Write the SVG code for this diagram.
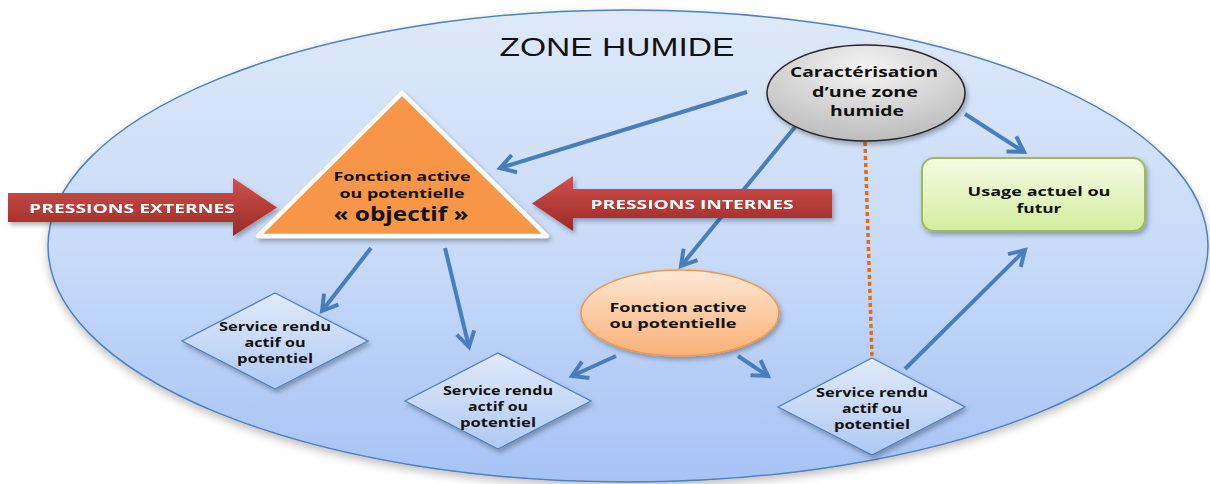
<svg xmlns="http://www.w3.org/2000/svg" width="1210" height="484" viewBox="0 0 1210 484">
<defs>
<linearGradient id="gZone" x1="0" y1="0" x2="0" y2="1"><stop offset="0" stop-color="#dee9f9"/><stop offset="0.5" stop-color="#c8dbf9"/><stop offset="1" stop-color="#a6c3f4"/></linearGradient>
<linearGradient id="gRed" x1="0" y1="0" x2="0" y2="1"><stop offset="0" stop-color="#d0514d"/><stop offset="1" stop-color="#9a2926"/></linearGradient>
<radialGradient id="gGrey" cx="0.5" cy="0.25" r="0.8"><stop offset="0" stop-color="#f4f4f4"/><stop offset="1" stop-color="#b8b8b8"/></radialGradient>
<linearGradient id="gGreen" x1="0" y1="0" x2="0" y2="1"><stop offset="0" stop-color="#f6fbe6"/><stop offset="1" stop-color="#d3ed9e"/></linearGradient>
<linearGradient id="gOrange" x1="0" y1="0" x2="0" y2="1"><stop offset="0" stop-color="#fde8d6"/><stop offset="1" stop-color="#fab074"/></linearGradient>
<linearGradient id="gDia" x1="0" y1="0" x2="0" y2="1"><stop offset="0" stop-color="#e0eafa"/><stop offset="1" stop-color="#aecaf4"/></linearGradient>
<filter id="sh" x="-20%" y="-20%" width="140%" height="140%"><feDropShadow dx="2" dy="3" stdDeviation="2.5" flood-color="#000" flood-opacity="0.3"/></filter>
<filter id="shBig" x="-5%" y="-5%" width="110%" height="115%"><feDropShadow dx="0" dy="4" stdDeviation="4" flood-color="#000" flood-opacity="0.25"/></filter>
<marker id="arr" markerUnits="userSpaceOnUse" markerWidth="24" markerHeight="24" refX="16" refY="10" orient="auto" overflow="visible">
<path d="M1,1 L16,10 L1,19" fill="none" stroke="#4a7ebb" stroke-width="4" stroke-linejoin="miter"/>
</marker>
<style>
.t{font-family:"Open Sans","Liberation Sans",sans-serif;font-weight:bold;fill:#111;text-anchor:middle}
.w{font-family:"Open Sans","Liberation Sans",sans-serif;font-weight:bold;fill:#fff;text-anchor:middle;font-size:13px}
.s{font-size:13px}
.d{font-size:12px}
.c{fill:none;stroke:#4a7ebb;stroke-width:4;marker-end:url(#arr)}
.dia{fill:url(#gDia);stroke:#4f81bd;stroke-width:1.3}
</style>
</defs>
<rect width="1210" height="484" fill="#fff"/>
<g id="zone">
<ellipse cx="628" cy="246" rx="580" ry="236" fill="url(#gZone)" stroke="#4f81bd" stroke-width="1.5" filter="url(#shBig)"/>
<text x="617" y="56" font-family="'Liberation Sans',Arial,sans-serif" font-size="26" fill="#111" text-anchor="middle" textLength="235" lengthAdjust="spacingAndGlyphs">ZONE HUMIDE</text>
</g>
<g id="connectors">
<line class="c" x1="747" y1="92" x2="500" y2="168"/>
<line class="c" x1="795" y1="127" x2="681" y2="266"/>
<line class="c" x1="965" y1="114" x2="1024" y2="152"/>
<line class="c" x1="371" y1="248" x2="322" y2="311"/>
<line class="c" x1="445" y1="248" x2="469" y2="347"/>
<line class="c" x1="616" y1="356" x2="572" y2="376"/>
<line class="c" x1="738" y1="356" x2="768" y2="376"/>
<line class="c" x1="905" y1="369" x2="1025" y2="250"/>
<line x1="865" y1="142" x2="872" y2="357" stroke="#e46c0a" stroke-width="3.5" stroke-dasharray="4 3"/>
</g>
<g id="pressions-externes" filter="url(#sh)">
<polygon points="8,193 233,193 233,178 277,207.5 233,236 233,222 8,222" fill="url(#gRed)"/>
<text class="w" x="132" y="212.5" textLength="206" lengthAdjust="spacingAndGlyphs">PRESSIONS EXTERNES</text>
</g>
<g id="pressions-internes" filter="url(#sh)">
<polygon points="532,203.5 573,176 573,189 832,189 832,218 573,218 573,231" fill="url(#gRed)"/>
<text class="w" x="692" y="208.5" textLength="203" lengthAdjust="spacingAndGlyphs">PRESSIONS INTERNES</text>
</g>
<g id="objectif">
<polygon points="402,93 258,236 547,236" fill="#f79646" stroke="#fff" stroke-width="4.5" stroke-linejoin="round" filter="url(#sh)"/>
<text class="t s" x="402" y="181" textLength="137" lengthAdjust="spacingAndGlyphs">Fonction active</text>
<text class="t s" x="402" y="198" textLength="125" lengthAdjust="spacingAndGlyphs">ou potentielle</text>
<text class="t" x="401" y="221" font-size="19" textLength="135" lengthAdjust="spacingAndGlyphs">« objectif »</text>
</g>
<g id="caracterisation">
<ellipse cx="866" cy="93" rx="99" ry="48" fill="url(#gGrey)" stroke="#262626" stroke-width="1.5" filter="url(#sh)"/>
<text class="t" x="864" y="77" font-size="15" textLength="148" lengthAdjust="spacingAndGlyphs">Caractérisation</text>
<text class="t" x="865" y="97" font-size="15" textLength="106" lengthAdjust="spacingAndGlyphs">d’une zone</text>
<text class="t" x="867" y="116" font-size="15" textLength="74" lengthAdjust="spacingAndGlyphs">humide</text>
</g>
<g id="usage">
<rect x="922" y="158" width="223" height="73" rx="12" fill="url(#gGreen)" stroke="#9bbb59" stroke-width="2" filter="url(#sh)"/>
<text class="t s" x="1039" y="196" textLength="143" lengthAdjust="spacingAndGlyphs">Usage actuel ou</text>
<text class="t s" x="1039" y="213" textLength="45" lengthAdjust="spacingAndGlyphs">futur</text>
</g>
<g id="fonction">
<ellipse cx="680" cy="313" rx="99" ry="43" fill="url(#gOrange)" stroke="#f79646" stroke-width="1.5" filter="url(#sh)"/>
<text class="t s" x="678" y="312" textLength="137" lengthAdjust="spacingAndGlyphs">Fonction active</text>
<text class="t s" x="673" y="328" textLength="127" lengthAdjust="spacingAndGlyphs">ou potentielle</text>
</g>
<g id="service1">
<polygon class="dia" points="275,293 368,341 275,389 182,341" filter="url(#sh)"/>
<text class="t d" x="275" y="331" textLength="112" lengthAdjust="spacingAndGlyphs">Service rendu</text>
<text class="t d" x="275" y="347" textLength="61" lengthAdjust="spacingAndGlyphs">actif ou</text>
<text class="t d" x="275" y="363" textLength="76" lengthAdjust="spacingAndGlyphs">potentiel</text>
</g>
<g id="service2">
<polygon class="dia" points="498,353 591,401 498,449 405,401" filter="url(#sh)"/>
<text class="t d" x="498" y="395" textLength="110" lengthAdjust="spacingAndGlyphs">Service rendu</text>
<text class="t d" x="498" y="411" textLength="60" lengthAdjust="spacingAndGlyphs">actif ou</text>
<text class="t d" x="498" y="427" textLength="76" lengthAdjust="spacingAndGlyphs">potentiel</text>
</g>
<g id="service3">
<polygon class="dia" points="872,358 965,407 872,455 778,407" filter="url(#sh)"/>
<text class="t d" x="872" y="397" textLength="112" lengthAdjust="spacingAndGlyphs">Service rendu</text>
<text class="t d" x="872" y="413" textLength="60" lengthAdjust="spacingAndGlyphs">actif ou</text>
<text class="t d" x="872" y="429" textLength="76" lengthAdjust="spacingAndGlyphs">potentiel</text>
</g>
</svg>
